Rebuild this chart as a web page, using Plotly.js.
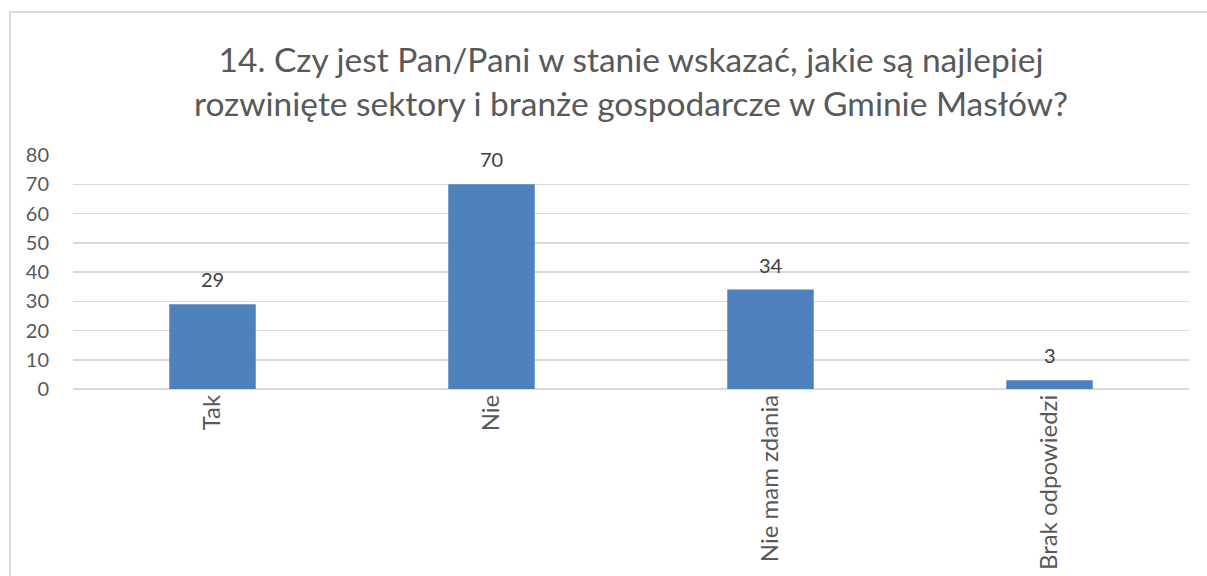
<!DOCTYPE html>
<html>
<head>
<meta charset="utf-8">
<script src="https://cdn.plot.ly/plotly-3.0.1.min.js"></script>
<style>
html,body{margin:0;padding:0;background:#fff;overflow:hidden;}
#frame{position:absolute;left:9px;top:11px;width:1220px;height:600px;border:2px solid #d9d9d9;box-sizing:border-box;}
#chart{position:absolute;left:0;top:0;width:1207px;height:576px;}
</style>
</head>
<body>
<div id="frame"></div>
<div id="chart"></div>
<script>
const categories = ["Tak", "Nie", "Nie mam zdania", "Brak odpowiedzi"];
const values = [29, 70, 34, 3];
const yTicks = [0, 10, 20, 30, 40, 50, 60, 70, 80];

const trace = {
  type: "bar",
  x: categories,
  y: values,
  marker: {color: "#4f81bd", line: {color: "#4f81bd", width: 0}},
  width: 0.31,
  hoverinfo: "x+y"
};

const annotations = categories.map((c, i) => ({
  x: c, y: values[i], xref: "x", yref: "y",
  text: String(values[i]), showarrow: false,
  yanchor: "bottom", yshift: 11,
  font: {family: "Lato, 'Open Sans', sans-serif", size: 20, color: "#404040"}
}));

const layout = {
  width: 1207, height: 576,
  margin: {l: 73, r: 18, t: 155, b: 187},
  paper_bgcolor: "rgba(0,0,0,0)",
  plot_bgcolor: "rgba(0,0,0,0)",
  title: {
    text: "14. Czy jest Pan/Pani w stanie wskazać, jakie są najlepiej<br>rozwinięte sektory i branże gospodarcze w Gminie Masłów?",
    font: {family: "Lato, 'Open Sans', sans-serif", size: 33.5, color: "#595959"},
    x: 0.5, xref: "paper", xanchor: "center",
    y: 1 - 72/576, yref: "container", yanchor: "middle"
  },
  xaxis: {
    type: "category",
    tickangle: -90,
    tickfont: {family: "Lato, 'Open Sans', sans-serif", size: 24, color: "#595959"},
    showgrid: false, showline: false, ticks: "", ticklen: 0,
    automargin: false
  },
  yaxis: {
    range: [0, 80],
    tickvals: yTicks,
    ticktext: yTicks.map(String),
    tickfont: {family: "Lato, 'Open Sans', sans-serif", size: 20, color: "#595959"},
    gridcolor: "#d9d9d9", gridwidth: 1.5,
    zeroline: true, zerolinecolor: "#d9d9d9", zerolinewidth: 1.5,
    showline: false, ticks: "", ticklabelstandoff: 23,
    automargin: false
  },
  annotations: annotations,
  showlegend: false,
  bargap: 0.69
};

Plotly.newPlot("chart", [trace], layout, {displayModeBar: false, staticPlot: true});
</script>
</body>
</html>
